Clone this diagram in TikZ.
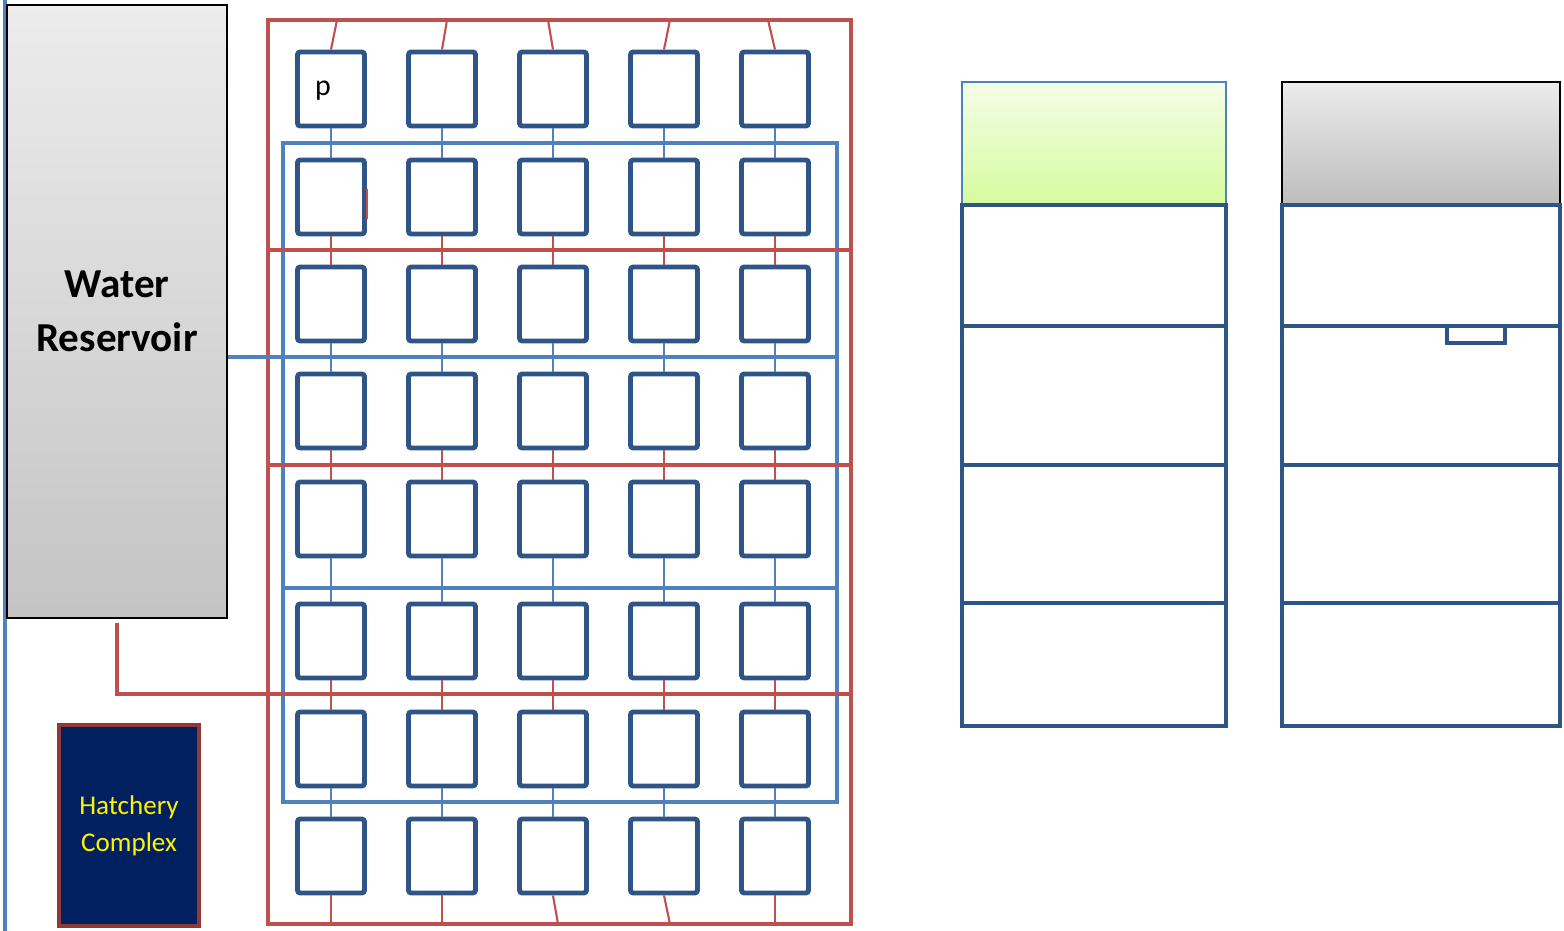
\documentclass[tikz,border=0pt]{standalone}
\usepackage{fontspec}
\setmainfont{Carlito}

\definecolor{pipered}{HTML}{C0504D}
\definecolor{pipeblue}{HTML}{4F81BD}
\definecolor{cellblue}{HTML}{2F5586}
\definecolor{hatchnavy}{HTML}{002060}
\definecolor{hatchrim}{HTML}{8E3A3A}
\definecolor{greentop}{HTML}{F4FDE8}
\definecolor{greenbot}{HTML}{D6FB9E}
\definecolor{graytop}{HTML}{ECECEC}
\definecolor{graybot}{HTML}{BDBDBD}

\tikzset{
  cell/.style={draw=cellblue, line width=1.4pt, fill=white,
    rounded corners=0.8pt, minimum width=0.67cm, minimum height=0.74cm,
    inner sep=0pt},
  redlink/.style={draw=pipered, line width=0.6pt},
  bluelink/.style={draw=pipeblue, line width=0.6pt},
  redmain/.style={draw=pipered, line width=1.2pt},
  bluemain/.style={draw=pipeblue, line width=1.2pt},
  section/.style={draw=cellblue, line width=1.2pt},
}

\begin{document}
\begin{tikzpicture}[x=0.01cm, y=-0.01cm]

  \useasboundingbox (0,0) rectangle (1564,931);

  % ================================================================
  % Reservoir and hatchery
  % ================================================================

  \draw[pipeblue, line width=0.9pt] (5,0) -- (5,931);

  \node[draw=black, line width=0.6pt, top color=graytop, bottom color=graybot!90,
        minimum width=2.2cm, minimum height=6.13cm, align=center,
        font=\fontsize{11.7}{15.5}\selectfont\bfseries]
    (reservoir) at (117,311.5) {Water\\Reservoir};

  \node[draw=hatchrim, line width=1.2pt, fill=hatchnavy, text=yellow,
        minimum width=1.4cm, minimum height=2.01cm, align=center,
        font=\fontsize{7.7}{10.4}\selectfont]
    (hatchery) at (129,825.5) {Hatchery\\Complex};

  % ================================================================
  % Pond frames (red and blue)
  % ================================================================

  \coordinate (rmid) at (851,694);
  \coordinate (bmid) at (837,357);

  \draw[redmain] (268,20) rectangle (851,924);
  \draw[bluemain] (283,143) rectangle (837,802);

  \draw[redmain] (268,250) -- (851,250);
  \draw[redmain] (268,465) -- (851,465);
  \draw[bluemain] (283,588) -- (837,588);

  % feed lines from the reservoir
  \draw[redmain] ([yshift=-0.04cm]reservoir.south) |- (rmid);
  \draw[bluemain] (reservoir.east |- bmid) -- (bmid);

  % ================================================================
  % Ponds (8 rows x 5 columns)
  % ================================================================

  \foreach \r/\y in {1/89, 2/197, 3/304, 4/411, 5/519, 6/641, 7/749, 8/856}
    \foreach \c/\x in {1/331, 2/442, 3/553, 4/664, 5/775}
      \node[cell] (s\r\c) at (\x,\y) {};

  \node[font=\fontsize{8.5}{9}\selectfont] (plabel) at (323,91) {p};

  % --- links between rows ---
  \foreach \a/\b/\link in {1/2/bluelink, 2/3/redlink, 3/4/bluelink,
                           4/5/redlink, 5/6/bluelink, 6/7/redlink, 7/8/bluelink}
    \foreach \c in {1,...,5}
      \draw[\link] (s\a\c.south) -- (s\b\c.north);

  % --- inlets from the top, outlets to the bottom ---
  \foreach \c/\tx/\bx in {1/337/331, 2/447/442, 3/548/558, 4/670/670, 5/768/775} {
    \coordinate (top\c) at (\tx,20);
    \coordinate (bot\c) at (\bx,924);
    \draw[redlink] (top\c) -- (s1\c.north);
    \draw[redlink] (s8\c.south) -- (bot\c);
  }

  \draw[redlink] ([yshift=0.08cm]s21.east) -- ([yshift=-0.22cm]s21.east);

  % ================================================================
  % Tanks (right side)
  % ================================================================

  \draw[pipeblue, line width=0.6pt, top color=greentop, bottom color=greenbot]
    (962,82) rectangle (1226,205);
  \foreach \t/\b in {205/326, 326/465, 465/603, 603/726}
    \draw[section] (962,\t) rectangle (1226,\b);

  \draw[black, line width=0.7pt, top color=graytop, bottom color=graybot]
    (1282,82) rectangle (1560,205);
  \foreach \t/\b in {205/326, 326/465, 465/603, 603/726}
    \draw[section] (1282,\t) rectangle (1560,\b);
  \draw[section, line width=0.9pt] (1447,326) rectangle (1505,343);

\end{tikzpicture}
\end{document}
